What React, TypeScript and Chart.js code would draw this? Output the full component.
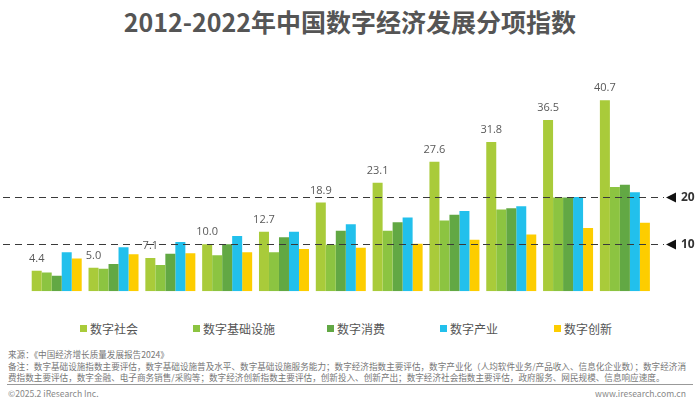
import React, { useEffect, useRef } from "react";
import { Chart, registerables } from "chart.js";

Chart.register(...registerables);

const years = ["2012", "2013", "2014", "2015", "2016", "2017", "2018", "2019", "2020", "2021", "2022"];
const digitalSociety = [4.4, 5.0, 7.1, 10.0, 12.7, 18.9, 23.1, 27.6, 31.8, 36.5, 40.7];
const digitalInfra = [4.0, 4.8, 5.6, 7.7, 8.3, 9.9, 12.9, 15.1, 17.4, 20.0, 22.2];
const digitalConsumption = [3.3, 5.8, 8.0, 10.0, 11.5, 12.9, 14.7, 16.3, 17.7, 20.0, 22.7];
const digitalIndustry = [8.3, 9.4, 10.5, 11.8, 12.7, 14.3, 15.7, 17.1, 18.1, 20.1, 21.1];
const digitalInnovation = [7.0, 7.9, 8.1, 8.3, 9.0, 9.3, 10.1, 11.0, 12.1, 13.5, 14.6];
const seriesNames = ["数字社会", "数字基础设施", "数字消费", "数字产业", "数字创新"];
const seriesColors = ["#a9cb3a", "#8cc441", "#62a844", "#22c0ec", "#fdcd00"];
const refLines = [20, 10];

const FONT = "'Noto Sans CJK SC', 'Noto Sans', sans-serif";

const overlayPlugin = {
  id: "overlay",
  afterDatasetsDraw(chart: any) {
    const ctx = chart.ctx;
    const y = chart.scales.y;
    // value labels above 数字社会 bars
    const meta = chart.getDatasetMeta(0);
    ctx.save();
    ctx.font = "11px 'Open Sans', sans-serif";
    ctx.fillStyle = "#595959";
    ctx.textAlign = "center";
    ctx.textBaseline = "middle";
    meta.data.forEach((el: any, i: number) => {
      ctx.fillText(digitalSociety[i].toFixed(1), el.x, el.y - 12);
    });
    ctx.restore();
    // dashed reference lines with arrow markers
    refLines.forEach((v) => {
      const py = Math.round(y.getPixelForValue(v)) + 0.5;
      ctx.save();
      ctx.strokeStyle = "#3a3a3a";
      ctx.lineWidth = 1.2;
      ctx.setLineDash([7, 5]);
      ctx.beginPath();
      ctx.moveTo(3, py);
      ctx.lineTo(664, py);
      ctx.stroke();
      ctx.setLineDash([]);
      ctx.fillStyle = "#111";
      ctx.beginPath();
      ctx.moveTo(666, py);
      ctx.lineTo(676, py - 5);
      ctx.lineTo(676, py + 5);
      ctx.closePath();
      ctx.fill();
      ctx.font = "bold 12px 'Open Sans', sans-serif";
      ctx.fillStyle = "#333";
      ctx.textAlign = "left";
      ctx.textBaseline = "middle";
      ctx.fillText(String(v), 681, py);
      ctx.restore();
    });
  },
};

function BarChart() {
  const ref = useRef<HTMLCanvasElement | null>(null);
  useEffect(() => {
    if (!ref.current) return;
    const chart = new Chart(ref.current, {
      type: "bar",
      data: {
        labels: years,
        datasets: [digitalSociety, digitalInfra, digitalConsumption, digitalIndustry, digitalInnovation].map(
          (d, i) => ({
            label: seriesNames[i],
            data: d,
            backgroundColor: seriesColors[i],
            borderWidth: 0,
            categoryPercentage: 0.88,
            barPercentage: 1.0,
          })
        ),
      },
      options: {
        animation: false,
        responsive: false,
        devicePixelRatio: 1,
        layout: { padding: { left: 28.3, right: 46.7, top: 35, bottom: 8.7 } },
        plugins: { legend: { display: false }, tooltip: { enabled: false }, title: { display: false } },
        scales: {
          x: { display: false, offset: true },
          y: { display: false, min: 0, max: 45 },
        },
      },
      plugins: [overlayPlugin],
    });
    return () => chart.destroy();
  }, []);
  return <canvas ref={ref} width={700} height={255} style={{ position: "absolute", left: 0, top: 45, width: 700, height: 255 }} />;
}

const legendX = [80, 193, 327, 440, 554];

export default function App() {
  return (
    <div style={{ position: "absolute", left: 0, top: 0, width: 700, height: 398, background: "#fff", overflow: "hidden", fontFamily: FONT }}>
      <div style={{ position: "absolute", left: 0, top: 0, width: 700, height: 42, lineHeight: "42px", textAlign: "center", fontSize: 25, fontWeight: 700, color: "#555" }}>
        2012-2022年中国数字经济发展分项指数
      </div>
      <BarChart />
      {seriesNames.map((n, i) => (
        <div key={n} style={{ position: "absolute", left: legendX[i], top: 320, height: 16, display: "flex", alignItems: "center", fontSize: 12, color: "#555", whiteSpace: "nowrap" }}>
          <span style={{ display: "inline-block", width: 7, height: 7, background: seriesColors[i], marginRight: 3 }} />
          {n}
        </div>
      ))}
      <div style={{ position: "absolute", left: 8, top: 349, fontSize: 8.6, lineHeight: "11.5px", color: "#777", whiteSpace: "nowrap" }}>
        <div>来源：《中国经济增长质量发展报告2024》</div>
        <div>备注：数字基础设施指数主要评估，数字基础设施普及水平、数字基础设施服务能力；数字经济指数主要评估，数字产业化（人均软件业务/产品收入、信息化企业数）；数字经济消</div>
        <div>费指数主要评估，数字金融、电子商务销售/采购等；数字经济创新指数主要评估，创新投入、创新产出；数字经济社会指数主要评估，政府服务、网民规模、信息响应速度。</div>
      </div>
      <div style={{ position: "absolute", left: 7, top: 384, width: 686, height: 1, background: "#999" }} />
      <div style={{ position: "absolute", left: 8, top: 387, fontSize: 8.6, color: "#888", whiteSpace: "nowrap" }}>©2025.2 iResearch Inc.</div>
      <div style={{ position: "absolute", right: 14, top: 387, fontSize: 8.6, color: "#888", whiteSpace: "nowrap" }}>www.iresearch.com.cn</div>
    </div>
  );
}
